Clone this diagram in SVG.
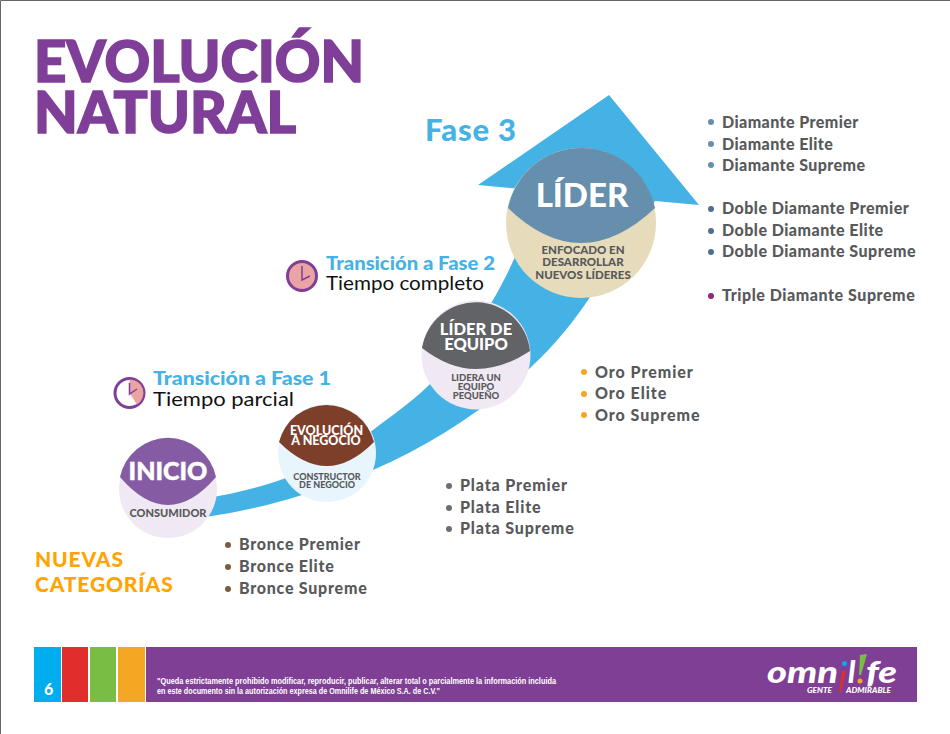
<svg xmlns="http://www.w3.org/2000/svg" width="950" height="734" viewBox="0 0 950 734">
<style>
text{font-family:Lato,"Open Sans","Liberation Sans",sans-serif}
.t{font-size:57px;font-weight:900;fill:#7f3f98;stroke:#7f3f98;stroke-width:1.6px}
.b{font-size:16px;font-weight:900;fill:#58595b}
.h{font-size:19px;font-weight:900;fill:#45b2e5}
.s{font-size:20px;font-weight:400;fill:#111}
.n{font-weight:900;fill:#fff;text-anchor:middle}
.d{font-weight:900;fill:#58595b;text-anchor:middle}
.cat{font-size:21px;font-weight:900;fill:#ffa400;letter-spacing:.85px}
.f{font-family:"Liberation Sans",sans-serif;font-size:8.5px;font-weight:700;fill:#fff}
.l{font-size:30px;font-weight:900;font-style:italic;fill:#fff}
.g{font-size:6.500px;font-weight:900;font-style:italic;fill:#fff}
</style>
<rect width="950" height="734" fill="#fff"/>
<path d="M.5 734V.5H950" fill="none" stroke="#666" stroke-width="1"/>
<text class="t" x="34" y="82" textLength="330" lengthAdjust="spacingAndGlyphs">EVOLUCIÓN</text>
<text class="t" x="34" y="133" textLength="262" lengthAdjust="spacingAndGlyphs">NATURAL</text>
<g id="connectors">
<path id="arrow" fill="#45b2e5" d="M205 517C240 512 270 505 302 495C327 488 350 480 373 470C430 445 485 410 530 368C555 345 575 320 590 297L655 201L699 205L609 95L478 185L520 189L522 240C512 265 503 283 493 300C475 330 455 360 427 387C410 403 390 417 373 430C345 452 315 468 283 479C260 487 235 494 205 498Z"/>
</g>
<g id="inicio">
<circle cx="168" cy="489" r="49" fill="#f0e9f4"/>
<path d="M120 477A49 49 0 0 1 216 477Q192 505 168 505Q144 505 120 477Z" fill="#855ca3"/>
<text class="n" x="168" y="480" font-size="25" stroke="#fff" stroke-width=".5">INICIO</text>
<text class="d" x="168" y="517" font-size="11">CONSUMIDOR</text>
</g>
<g id="evolucion">
<circle cx="327" cy="453" r="49" fill="#e9f5fc"/>
<path d="M279 442A49 49 0 0 1 374 442Q350 466 327 466Q303 466 279 442Z" fill="#7e3f2a"/>
<text class="n" x="326.500" y="435" font-size="12.500">EVOLUCIÓN</text>
<text class="n" x="326" y="445" font-size="12.500">A NEGOCIO</text>
<text class="d" x="327" y="480" font-size="9">CONSTRUCTOR</text>
<text class="d" x="327" y="488" font-size="9">DE NEGOCIO</text>
</g>
<g id="lider-equipo">
<circle cx="476" cy="355" r="54.5" fill="#f0e9f4"/>
<path d="M422 348A54.5 54.5 0 0 1 530 351Q503 369 476 369Q449 369 422 348Z" fill="#616366"/>
<text class="n" x="476" y="335" font-size="16.500">LÍDER DE</text>
<text class="n" x="476" y="350" font-size="16.500">EQUIPO</text>
<text class="d" x="476" y="381" font-size="9.500">LIDERA UN</text>
<text class="d" x="476" y="390" font-size="9.500">EQUIPO</text>
<text class="d" x="476" y="399" font-size="9.500">PEQUEÑO</text>
</g>
<g id="lider">
<circle cx="581" cy="223" r="75" fill="#e6dcbc"/>
<path d="M508 208A75 75 0 0 1 655 208Q618 243 581 243Q544 243 508 208Z" fill="#658fac"/>
<text class="n" x="582" y="207" font-size="33">LÍDER</text>
<text class="d" x="583" y="254" font-size="11.500">ENFOCADO EN</text>
<text class="d" x="583" y="266" font-size="11.500">DESARROLLAR</text>
<text class="d" x="583" y="279" font-size="11.500">NUEVOS LÍDERES</text>
</g>
<g id="fase3"><text x="425" y="141" font-size="31" font-weight="900" fill="#45b2e5" letter-spacing=".8">Fase 3</text></g>
<g id="transicion1">
<circle cx="129.500" cy="393" r="14.500" fill="#fff" stroke="#7f3f98" stroke-width="3"/>
<path d="M129.500 393V379.500A13.500 13.500 0 0 1 137 404.500Z" fill="#eba4a4"/>
<path d="M129.500 383V394L137 389" fill="none" stroke="#7f3f98" stroke-width="1.500"/>
<text class="h" x="153" y="385" textLength="178" lengthAdjust="spacingAndGlyphs">Transición a Fase 1</text>
<text class="s" x="153" y="406" textLength="141" lengthAdjust="spacingAndGlyphs">Tiempo parcial</text>
</g>
<g id="transicion2">
<circle cx="302" cy="276" r="14.500" fill="#eba4a4" stroke="#7f3f98" stroke-width="3"/>
<path d="M302 266V280L310 276" fill="none" stroke="#7f3f98" stroke-width="1.500"/>
<text class="h" x="326" y="270" textLength="169" lengthAdjust="spacingAndGlyphs">Transición a Fase 2</text>
<text class="s" x="326" y="290" textLength="158" lengthAdjust="spacingAndGlyphs">Tiempo completo</text>
</g>
<g id="categorias">
<text class="cat" x="35" y="567">NUEVAS</text>
<text class="cat" x="35" y="592">CATEGORÍAS</text>
</g>
<g id="bronce" fill="#7e5a3e" letter-spacing=".75">
<circle cx="228" cy="545" r="3"/><circle cx="228" cy="567" r="3"/><circle cx="228" cy="589" r="3"/>
<text class="b" x="239" y="550">Bronce Premier</text>
<text class="b" x="239" y="572">Bronce Elite</text>
<text class="b" x="239" y="594">Bronce Supreme</text>
</g>
<g id="plata" fill="#6d6e71" letter-spacing=".85">
<circle cx="449" cy="486" r="3"/><circle cx="449" cy="508" r="3"/><circle cx="449" cy="529" r="3"/>
<text class="b" x="460" y="491">Plata Premier</text>
<text class="b" x="460" y="513">Plata Elite</text>
<text class="b" x="460" y="534">Plata Supreme</text>
</g>
<g id="oro" fill="#f5a623" letter-spacing=".95">
<circle cx="584" cy="372" r="3"/><circle cx="584" cy="394" r="3"/><circle cx="584" cy="415" r="3"/>
<text class="b" x="595" y="378">Oro Premier</text>
<text class="b" x="595" y="399">Oro Elite</text>
<text class="b" x="595" y="421">Oro Supreme</text>
</g>
<g id="diamante" fill="#658fac" letter-spacing=".42">
<circle cx="711" cy="122" r="3"/><circle cx="711" cy="144" r="3"/><circle cx="711" cy="165" r="3"/>
<text class="b" x="722" y="128">Diamante Premier</text>
<text class="b" x="722" y="150">Diamante Elite</text>
<text class="b" x="722" y="171">Diamante Supreme</text>
</g>
<g id="doble-diamante" fill="#4f6d94" letter-spacing=".47">
<circle cx="711" cy="209" r="3"/><circle cx="711" cy="231" r="3"/><circle cx="711" cy="252" r="3"/>
<text class="b" x="722" y="214">Doble Diamante Premier</text>
<text class="b" x="722" y="236">Doble Diamante Elite</text>
<text class="b" x="722" y="257">Doble Diamante Supreme</text>
</g>
<g id="triple-diamante" fill="#8e2a78" letter-spacing=".55">
<circle cx="711" cy="296" r="3"/>
<text class="b" x="722" y="301">Triple Diamante Supreme</text>
</g>
<g id="footer">
<rect x="34" y="647" width="27" height="55" fill="#00aeef"/>
<rect x="62" y="647" width="26" height="55" fill="#e12d2b"/>
<rect x="90" y="647" width="26" height="55" fill="#7abd43"/>
<rect x="118" y="647" width="27" height="55" fill="#f5a623"/>
<rect x="146" y="647" width="771" height="55" fill="#7f3f94"/>
<text x="44" y="695" font-size="16" font-weight="900" fill="#fff">6</text>
<text class="f" x="157" y="684" textLength="399" lengthAdjust="spacingAndGlyphs">"Queda estrictamente prohibido modificar, reproducir, publicar, alterar total o parcialmente la información incluida</text>
<text class="f" x="157" y="694" textLength="283" lengthAdjust="spacingAndGlyphs">en este documento sin la autorización expresa de Omnilife de México S.A. de C.V."</text>
</g>
<g id="logo">
<text class="l" x="767" y="683" textLength="71" lengthAdjust="spacingAndGlyphs">omn</text>
<path d="M842 671L846 671L841 692L839 692Z" fill="#e12d2b"/><circle cx="844.500" cy="663.500" r="2.500" fill="#00aeef"/>
<text class="l" x="848" y="683">l</text>
<path d="M860 655L867 654L861 675L859 675Z" fill="#7abd43"/><circle cx="860" cy="681" r="2.500" fill="#f5a623"/>
<text class="l" x="866" y="683" textLength="31" lengthAdjust="spacingAndGlyphs">fe</text>
<text class="g" x="807" y="693" textLength="25" lengthAdjust="spacingAndGlyphs">GENTE</text>
<text class="g" x="846" y="693" textLength="45" lengthAdjust="spacingAndGlyphs">ADMIRABLE</text>
</g>
</svg>
